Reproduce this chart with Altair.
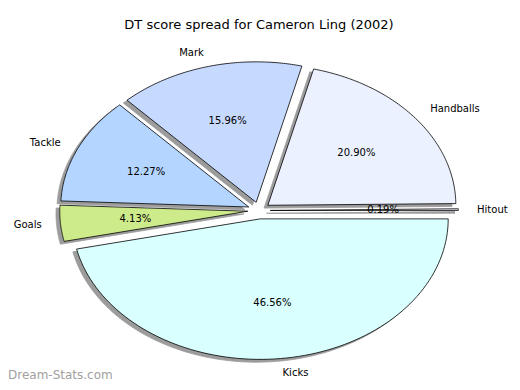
import altair as alt
import pandas as pd

# ---- data ----
categories = ["Hitout", "Handballs", "Mark", "Tackle", "Goals", "Kicks"]
values = [0.19, 20.90, 15.96, 12.27, 4.13, 46.56]
colors = ["#f2f5ff", "#ebf1ff", "#c6d9ff", "#b3d5ff", "#cdeb8b", "#d9ffff"]
title_text = "DT score spread for Cameron Ling (2002)"
watermark = "Dream-Stats.com"

# ---- style constants ----
EXPLODE = 0.06
SHADOW = 0.02
N = 90
W, H = 504, 374
FONT = "DejaVu Sans"
CX, CY, RX, RY = 251, 202.5, 188, 140.5  # pie centre / radii in view pixels

df = pd.DataFrame({"category": categories, "value": values, "idx": list(range(len(categories)))})

xs = alt.Scale(domain=[-CX / RX, (W - CX) / RX], nice=False, zero=False)
ys = alt.Scale(domain=[(CY - H) / RY, CY / RY], nice=False, zero=False)

base = (
    alt.Chart(df)
    .transform_window(cum="sum(value)", sort=[alt.SortField("idx")], frame=[None, 0])
    .transform_joinaggregate(total="sum(value)")
    .transform_calculate(
        a0="2*PI*(datum.cum-datum.value)/datum.total",
        a1="2*PI*datum.cum/datum.total",
    )
    .transform_calculate(mid="(datum.a0+datum.a1)/2")
    .transform_calculate(
        cx=f"{EXPLODE}*cos(datum.mid)",
        cy=f"{EXPLODE}*sin(datum.mid)",
    )
)

poly = (
    base.transform_calculate(pts=f"sequence(0, {N + 2})")
    .transform_flatten(["pts"], ["k"])
    .transform_calculate(theta=f"datum.a0 + (datum.a1-datum.a0)*(datum.k-1)/{N}")
    .transform_calculate(
        px="datum.k==0 ? datum.cx : datum.cx + cos(datum.theta)",
        py="datum.k==0 ? datum.cy : datum.cy + sin(datum.theta)",
    )
    .transform_calculate(sx=f"datum.px - {SHADOW}", sy=f"datum.py - {SHADOW}")
)

shadow = poly.mark_line(
    interpolate="linear-closed", fill="#9c9c9c", stroke="#9c9c9c", strokeWidth=0.8
).encode(
    x=alt.X("sx:Q", scale=xs, axis=None),
    y=alt.Y("sy:Q", scale=ys, axis=None),
    detail="category:N",
    order="k:Q",
)

slices = poly.mark_line(
    interpolate="linear-closed", stroke="black", strokeWidth=0.8
).encode(
    x=alt.X("px:Q", scale=xs, axis=None),
    y=alt.Y("py:Q", scale=ys, axis=None),
    fill=alt.Fill("category:N", scale=alt.Scale(domain=categories, range=colors), legend=None),
    detail="category:N",
    order="k:Q",
)

pct = base.transform_calculate(
    tx="datum.cx + 0.6*cos(datum.mid)",
    ty="datum.cy + 0.6*sin(datum.mid)",
    lbl="format(datum.value, '.2f') + '%'",
).mark_text(font=FONT, fontSize=10, color="black", baseline="middle", align="center").encode(
    x=alt.X("tx:Q", scale=xs, axis=None),
    y=alt.Y("ty:Q", scale=ys, axis=None),
    text="lbl:N",
)

lab = base.transform_calculate(
    lx="datum.cx + 1.1*cos(datum.mid)",
    ly="datum.cy + 1.1*sin(datum.mid)",
    side="cos(datum.mid) >= 0 ? 1 : 0",
)
lab_right = lab.transform_filter("datum.side == 1").mark_text(
    font=FONT, fontSize=10, color="black", baseline="middle", align="left"
).encode(
    x=alt.X("lx:Q", scale=xs, axis=None),
    y=alt.Y("ly:Q", scale=ys, axis=None),
    text="category:N",
)
lab_left = lab.transform_filter("datum.side == 0").mark_text(
    font=FONT, fontSize=10, color="black", baseline="middle", align="right"
).encode(
    x=alt.X("lx:Q", scale=xs, axis=None),
    y=alt.Y("ly:Q", scale=ys, axis=None),
    text="category:N",
)

title = alt.Chart(pd.DataFrame({"t": [title_text]})).mark_text(
    font=FONT, fontSize=13, color="black", align="center", baseline="middle"
).encode(x=alt.value(251), y=alt.value(17), text="t:N")

wm = alt.Chart(pd.DataFrame({"t": [watermark]})).mark_text(
    font=FONT, fontSize=12, color="#a0a0a0", align="left", baseline="alphabetic"
).encode(x=alt.value(0), y=alt.value(371), text="t:N")

chart = alt.layer(shadow, slices, pct, lab_right, lab_left, title, wm).properties(
    width=W, height=H, autosize=alt.AutoSizeParams(type="none"), padding=0
).configure_view(stroke=None)

chart.save("out.html", embed_options={"renderer": "svg", "actions": False})
